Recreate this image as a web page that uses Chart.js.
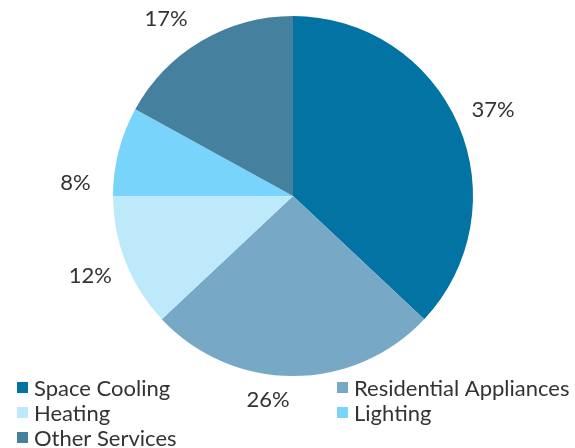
<!DOCTYPE html>
<html>
<head>
<meta charset="utf-8">
<script src="https://cdn.jsdelivr.net/npm/chart.js@4.4.0/dist/chart.umd.min.js"></script>
<style>
  html, body { margin: 0; padding: 0; background: #fff; }
  #wrap { width: 575px; height: 448px; }
</style>
</head>
<body>
<div id="wrap"><canvas id="myChart" width="575" height="448"></canvas></div>
<script>
// data
var categories = ["Space Cooling", "Residential Appliances", "Heating", "Lighting", "Other Services"];
var shares = [37, 26, 12, 8, 17];
var colors = ["#0373A4", "#77A8C5", "#BDE9FB", "#79D4FC", "#46809F"];

// small nudges so the labels sit where the original put them (degrees / px)
var labelTurn = [0, 7, 0, -11, -5];
var labelPush = [0, -13, 0, 0, 0];

var FONT = "Lato, 'Open Sans', sans-serif";

// percent labels outside the slices
var outsideLabels = {
	id: "outsideLabels",
	afterDatasetsDraw: function(chart){
		var ctx = chart.ctx;
		var meta = chart.getDatasetMeta(0);
		ctx.save();
		ctx.font = "22px " + FONT;
		ctx.fillStyle = "#333333";
		ctx.textAlign = "center";
		ctx.textBaseline = "middle";
		meta.data.forEach(function(arc, i){
			var p = arc.getProps(["x", "y", "startAngle", "endAngle", "outerRadius"], true);
			var mid = (p.startAngle + p.endAngle) / 2 + labelTurn[i] * Math.PI / 180;
			var r = p.outerRadius + 38 + labelPush[i];
			ctx.fillText(shares[i] + "%", p.x + Math.cos(mid) * r, p.y + Math.sin(mid) * r);
		});
		ctx.restore();
	}
};

// two column legend under the pie
var gridLegend = {
	id: "gridLegend",
	afterDraw: function(chart){
		var ctx = chart.ctx;
		var colX = [17, 337];
		var top = 387.5, rowH = 25, box = 11;
		ctx.save();
		ctx.font = "22px " + FONT;
		ctx.textBaseline = "middle";
		ctx.textAlign = "left";
		categories.forEach(function(name, i){
			var x = colX[i % 2];
			var y = top + Math.floor(i / 2) * rowH;
			ctx.fillStyle = colors[i];
			ctx.fillRect(x, y - box / 2, box, box);
			ctx.fillStyle = "#333333";
			ctx.fillText(name, x + box + 6, y + 1);
		});
		ctx.restore();
	}
};

var myChart = new Chart(document.getElementById("myChart"), {
	type: "pie",
	data: {
		labels: categories,
		datasets: [{
			data: shares,
			backgroundColor: colors,
			borderWidth: 0
		}]
	},
	options: {
		responsive: false,
		animation: false,
		layout: { padding: { top: 16, bottom: 72, left: 11, right: 0 } },
		plugins: {
			legend: { display: false },
			tooltip: { enabled: false }
		}
	},
	plugins: [outsideLabels, gridLegend]
});
</script>
</body>
</html>
